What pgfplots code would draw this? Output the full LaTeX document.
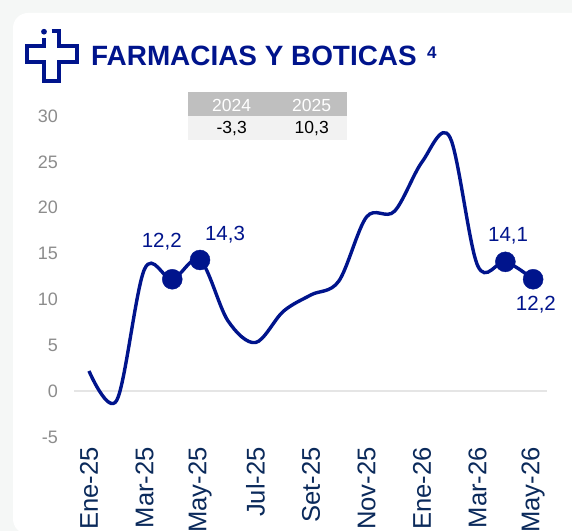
\documentclass[border=0pt]{standalone}
\usepackage{pgfplots}
\pgfplotsset{compat=1.18}
\usepackage{fontspec}
\setmainfont{Liberation Sans}
\definecolor{navy}{HTML}{00148C}
\definecolor{xlab}{HTML}{0B2A5B}
\definecolor{pagebg}{HTML}{F5F7F6}
\definecolor{ticklab}{HTML}{8C8C8C}
\begin{document}
\begin{tikzpicture}[x=1pt,y=1pt]
\useasboundingbox (0,0) rectangle (572,531);
\clip (0,0) rectangle (572,531);
\fill[pagebg] (0,0) rectangle (572,531);
\fill[white,rounded corners=15pt] (13,-3) rectangle (620,518);
% logo
\begin{scope}[shift={(0,531)},yscale=-1]
\draw[navy,line width=4.2pt,line join=miter] (51.7,31) -- (58.7,31) -- (58.7,46.3) -- (77,46.3) -- (77,62.3) -- (58.7,62.3) -- (58.7,81) -- (43.7,81) -- (43.7,62.3) -- (26.7,62.3) -- (26.7,46.3) -- (43.7,46.3) -- (43.7,38.3);
\fill[navy] (44,31.7) circle (2.9);
\end{scope}
% title
\node[anchor=base west,inner sep=0pt,text=navy,font=\bfseries\fontsize{27.9}{30}\selectfont] at (91,531-66) {FARMACIAS Y BOTICAS};
\node[anchor=base west,inner sep=0pt,text=navy,font=\bfseries\fontsize{17}{19}\selectfont] at (427,531-59) {4};
% table
\fill[black!25] (187.5,531-92) rectangle (346.7,531-116);
\fill[black!5] (187.5,531-116) rectangle (346.7,531-140);
\node[text=white,font=\fontsize{17.5}{20}\selectfont] at (231.7,531-105.5) {2024};
\node[text=white,font=\fontsize{17.5}{20}\selectfont] at (311.7,531-105.5) {2025};
\node[text=black,font=\fontsize{17.5}{20}\selectfont] at (231.7,531-129) {-3,3};
\node[text=black,font=\fontsize{17.5}{20}\selectfont] at (311.7,531-129) {10,3};
\begin{axis}[
  at={(74pt,94pt)},anchor=south west,
  scale only axis,width=473pt,height=321pt,
  xmin=-0.54,xmax=16.5,ymin=-5,ymax=30,
  clip=false,
  axis line style={draw=none},
  major tick style={draw=none},
  ytick={-5,0,...,30},
  xtick={0,2,...,16},
  xticklabels={Ene-25,Mar-25,May-25,Jul-25,Set-25,Nov-25,Ene-26,Mar-26,May-26},
  /pgf/number format/assume math mode=true,
  yticklabel style={text=ticklab,font=\fontsize{18}{20}\selectfont},
  xticklabel style={rotate=90,anchor=east,text=xlab,font=\fontsize{25.6}{27}\selectfont},
  tick label style={inner sep=0pt},
  xtick style={draw=none},
  major tick length=0pt,
  xticklabel shift=10pt,
  yticklabel shift=16pt,
]
\addplot[color=black!10,line width=1.5pt,forget plot] coordinates {(-0.54,0) (16.5,0)};
\addplot[color=navy,line width=3.4pt,smooth,tension=0.55,mark=none] coordinates {
(0,2.2) (1,-1.0) (2,13.3) (3,12.2) (4,14.3) (5,7.7) (6,5.3) (7,8.7) (8,10.5) (9,12) (10,19) (11,19.6) (12,25) (13,27.7) (14,13.7) (15,14.1) (16,12.2)};
\addplot[only marks,mark=*,mark size=10pt,color=navy] coordinates {(3,12.2) (4,14.3) (15,14.1) (16,12.2)};
\node[text=navy,font=\fontsize{20.5}{22}\selectfont] at (axis cs:2.62,16.3) {12,2};
\node[text=navy,font=\fontsize{20.5}{22}\selectfont] at (axis cs:4.9,17.05) {14,3};
\node[text=navy,font=\fontsize{20.5}{22}\selectfont] at (axis cs:15.1,16.9) {14,1};
\node[text=navy,font=\fontsize{20.5}{22}\selectfont] at (axis cs:16.1,9.4) {12,2};
\end{axis}
\end{tikzpicture}
\end{document}
